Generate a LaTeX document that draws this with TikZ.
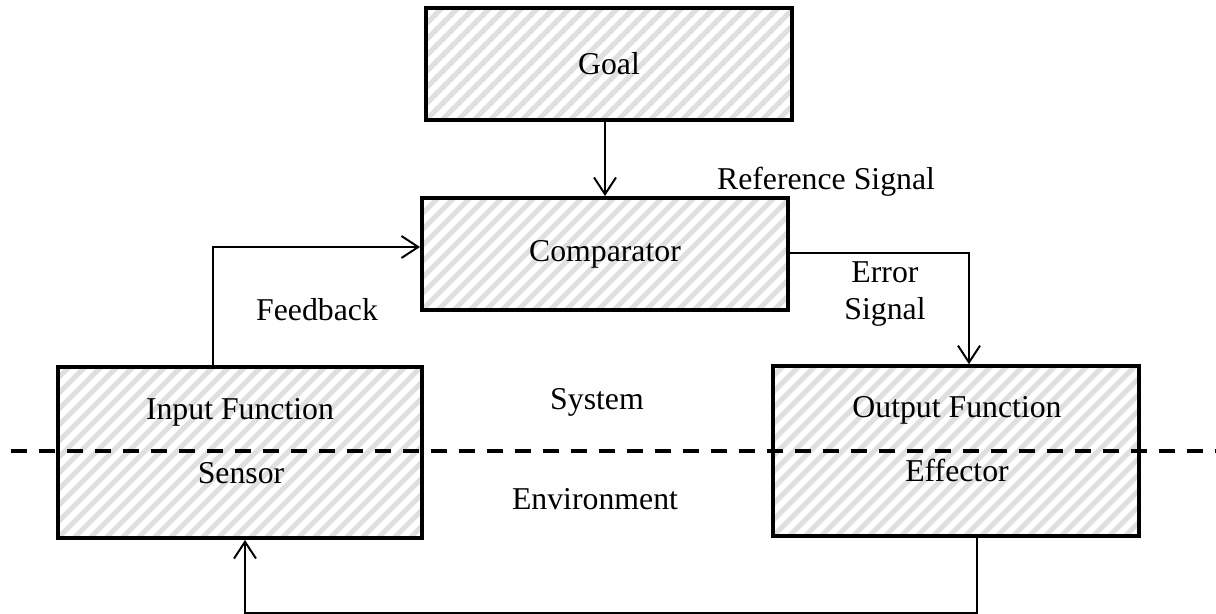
\documentclass[tikz,border=0pt]{standalone}
\usepackage{fontspec}
\setmainfont{Liberation Serif}
\usetikzlibrary{arrows.meta}

\begin{document}
\begin{tikzpicture}[line width=1.4pt,
  lbl/.style={font=\fontsize{22.6}{27}\selectfont, align=center},
  box/.style={draw, line width=2.8pt, minimum width=9.15cm, minimum height=2.8cm,
    path picture={
      \foreach \i in {-14,...,26}
        \draw[gray!25, line width=3.6pt] ([xshift=\i*0.4cm]path picture bounding box.south west) -- ++(5,5);
    }},
  arr/.style={-{Straight Barb[length=0.42cm,width=0.55cm,line width=1.4pt]}}]
\useasboundingbox (0,0) rectangle (30.4,-15.325);

\node [box, lbl] (goal) at (15.225,-1.6) {Goal};
\node [box, lbl] (comp) at (15.125,-6.35) {Comparator};
\node [box, minimum width=9.1cm, minimum height=4.28cm] (input) at (6.0,-11.31) {};
\node [box, minimum height=4.25cm] (output) at (23.9,-11.28) {};

\node [lbl] (inputtxt) at (6.0,-10.3) {Input Function};
\node [lbl] (sensortxt) at (6.025,-11.825) {Sensor};
\node [lbl] (outputtxt) at (23.925,-10.25) {Output Function};
\node [lbl] (effectortxt) at (23.925,-11.75) {Effector};

\node [lbl] (refsig) at (20.65,-4.55) {Reference Signal};
\node [lbl] (feedback) at (7.925,-7.75) {Feedback};
\node [lbl] (errsig) at (22.125,-7.35) {Error\\Signal};
\node [lbl] (system) at (14.925,-10.05) {System};
\node [lbl] (environment) at (14.875,-12.475) {Environment};

% system / environment boundary
\coordinate (dl) at (0.275,-11.275);
\coordinate (dr) at (30.4,-11.275);
\draw[line width=2.8pt, dash pattern=on 0.4cm off 0.3cm] (dl) -- (dr);

\draw[arr] (comp.north |- goal.south) -- (comp.north);
\draw[arr] ([xshift=-0.675cm]input.north) |- ([yshift=0.175cm]comp.west);
\draw[arr] ([yshift=0.025cm]comp.east) -| ([xshift=0.325cm]output.north);
\draw[arr] ([xshift=0.525cm]output.south) -- ++(0,-1.875) -| ([xshift=0.125cm]input.south);
\end{tikzpicture}
\end{document}
